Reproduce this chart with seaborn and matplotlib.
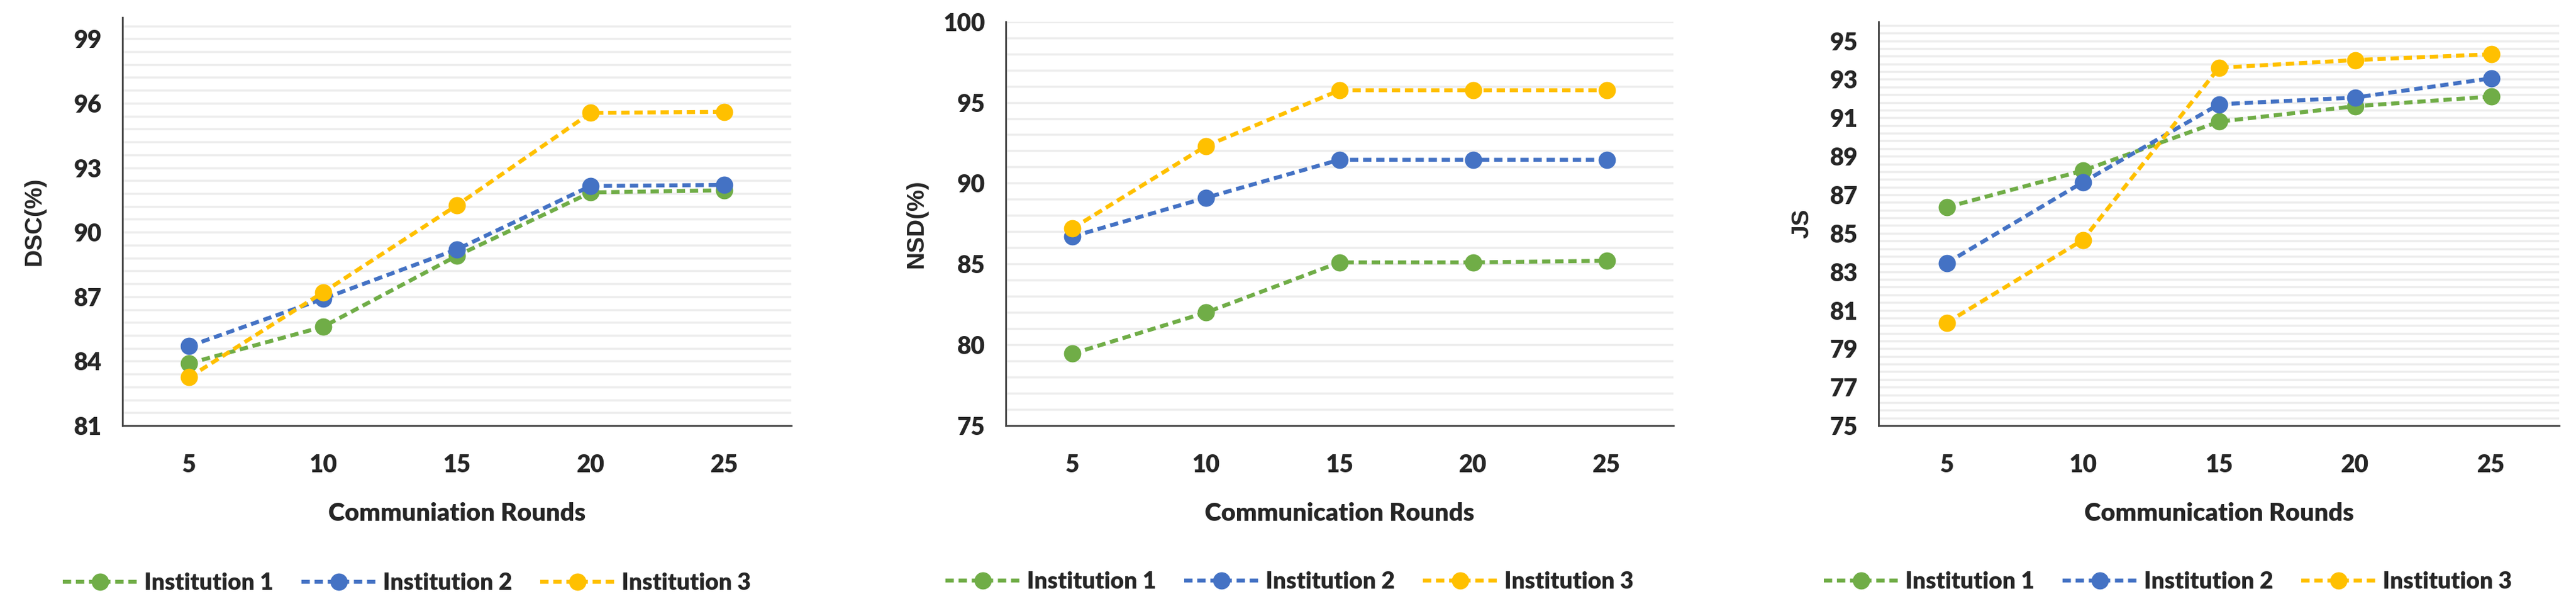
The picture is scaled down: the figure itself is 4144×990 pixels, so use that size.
import numpy as np
import pandas as pd
import seaborn as sns
import matplotlib.pyplot as plt
from matplotlib.ticker import FixedLocator

# data
rounds = [5, 10, 15, 20, 25]
institutions = ["Institution 1", "Institution 2", "Institution 3"]
colors = ["#70AD47", "#4472C4", "#FFC000"]

dsc_inst1 = [83.9, 85.6, 88.9, 91.85, 91.95]
dsc_inst2 = [84.7, 86.9, 89.2, 92.15, 92.2]
dsc_inst3 = [83.25, 87.2, 91.25, 95.55, 95.6]

nsd_inst1 = [79.45, 82.0, 85.1, 85.1, 85.2]
nsd_inst2 = [86.7, 89.1, 91.45, 91.45, 91.45]
nsd_inst3 = [87.2, 92.3, 95.75, 95.75, 95.75]

js_inst1 = [86.35, 88.25, 90.8, 91.6, 92.1]
js_inst2 = [83.45, 87.65, 91.7, 92.05, 93.05]
js_inst3 = [80.35, 84.65, 93.6, 94.0, 94.3]

panels = [
    ("DSC(%)", "Communiation Rounds", [dsc_inst1, dsc_inst2, dsc_inst3], 81, 100, 3, 0.6),
    ("NSD(%)", "Communication Rounds", [nsd_inst1, nsd_inst2, nsd_inst3], 75, 100, 5, 1.0),
    ("JS", "Communication Rounds", [js_inst1, js_inst2, js_inst3], 75, 96, 2, 0.4),
]

# axes boxes in figure fractions [left, bottom, width, height]
boxes = [
    [0.0475, 0.309, 0.2597, 0.663],
    [0.3904, 0.309, 0.2592, 0.656],
    [0.7293, 0.309, 0.2642, 0.656],
]
ylabel_x = [-0.115, -0.117, -0.096]

sns.set_theme(style="white")
plt.rcParams["font.family"] = ["Lato", "DejaVu Sans"]
text_weight = 800

fig = plt.figure(figsize=(41.44, 9.9), dpi=100)

for (ylab, xlab, series, ymin, ymax, ystep, yminor), box, lx in zip(panels, boxes, ylabel_x):
    ax = fig.add_axes(box)
    df = pd.DataFrame({
        "round": rounds * 3,
        "value": series[0] + series[1] + series[2],
        "inst": [institutions[0]] * 5 + [institutions[1]] * 5 + [institutions[2]] * 5,
    })
    sns.lineplot(data=df, x="round", y="value", hue="inst", hue_order=institutions,
                 palette=colors, marker="o", markersize=20, markeredgewidth=0,
                 linewidth=4.6, linestyle=(0, (2.1, 1.2)), legend=False, ax=ax)

    ax.set_xlim(2.5, 27.5)
    ax.set_ylim(ymin, ymax)
    ax.set_xticks(rounds)
    ax.xaxis.set_minor_locator(FixedLocator(np.arange(2.5, 28, 5)))
    ax.set_yticks(np.arange(ymin, ymax + 0.01, ystep))
    ax.yaxis.set_minor_locator(FixedLocator(np.arange(ymin, ymax + 0.01, yminor)))

    ax.grid(axis="y", which="both", color="#ededed", linewidth=2.5)
    ax.grid(axis="x", which="both", visible=False)
    ax.set_axisbelow(True)

    for s in ["top", "right"]:
        ax.spines[s].set_visible(False)
    for s in ["left", "bottom"]:
        ax.spines[s].set_color("#404040")
        ax.spines[s].set_linewidth(2)

    ax.tick_params(axis="x", which="major", direction="in", length=7, width=2,
                   color="#404040", pad=32, labelsize=28)
    ax.tick_params(axis="x", which="minor", direction="out", length=11, width=2,
                   color="#404040")
    ax.tick_params(axis="y", which="major", direction="out", length=10, width=2,
                   color="#404040", pad=14, labelsize=28)
    ax.tick_params(axis="y", which="minor", length=0)
    for lbl in ax.get_xticklabels() + ax.get_yticklabels():
        lbl.set_fontweight(text_weight)

    ax.set_xlabel(xlab, fontsize=29, fontweight=text_weight, labelpad=30)
    ax.set_ylabel(ylab, fontsize=28, fontweight="bold",
                  family=["Liberation Sans", "DejaVu Sans"])
    ax.yaxis.set_label_coords(lx, 0.5)

    ax.legend(ax.lines[:3], institutions, loc="center", bbox_to_anchor=(0.425, -0.386),
              ncol=3, frameon=False, handlelength=3.2, handletextpad=0.3,
              columnspacing=1.2, numpoints=1,
              prop={"size": 27, "weight": text_weight})

fig.savefig("out.png", dpi=100, facecolor="white")
